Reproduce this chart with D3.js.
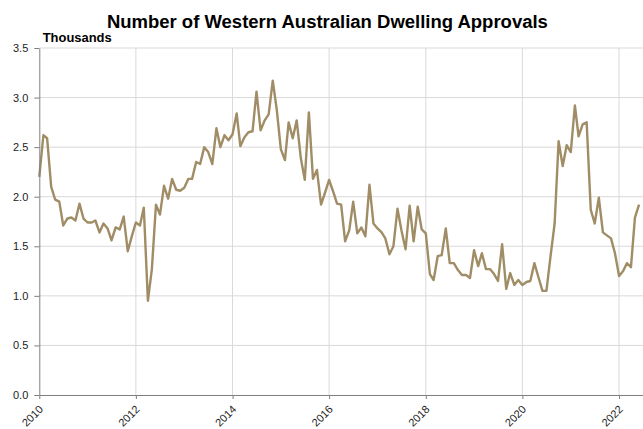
<!DOCTYPE html>
<html>
<head>
<meta charset="utf-8">
<script src="https://cdn.jsdelivr.net/npm/d3@7"></script>
<style>
  body { margin: 0; background: #fff; }
  svg { display: block; font-family: 'Liberation Sans', Arial, sans-serif; }
</style>
</head>
<body>
<div class="line-chart"></div>
<script>
// 每年的月資料 (thousands), 2010-01 開始
const approvals2010 = [2.20, 2.62, 2.59, 2.10, 1.97, 1.95, 1.71, 1.78, 1.79, 1.76, 1.93, 1.78];
const approvals2011 = [1.74, 1.74, 1.76, 1.64, 1.73, 1.68, 1.56, 1.69, 1.67, 1.80, 1.45, 1.60];
const approvals2012 = [1.74, 1.71, 1.89, 0.95, 1.27, 1.92, 1.82, 2.11, 1.98, 2.18, 2.07, 2.06];
const approvals2013 = [2.09, 2.18, 2.18, 2.35, 2.33, 2.50, 2.45, 2.33, 2.69, 2.50, 2.62, 2.57];
const approvals2014 = [2.63, 2.84, 2.51, 2.60, 2.65, 2.66, 3.06, 2.67, 2.77, 2.83, 3.17, 2.88];
const approvals2015 = [2.48, 2.37, 2.75, 2.59, 2.77, 2.39, 2.17, 2.85, 2.18, 2.27, 1.92, 2.04];
const approvals2016 = [2.17, 2.05, 1.93, 1.92, 1.55, 1.66, 1.95, 1.63, 1.69, 1.60, 2.12, 1.73];
const approvals2017 = [1.68, 1.64, 1.58, 1.42, 1.50, 1.88, 1.66, 1.47, 1.91, 1.55, 1.90, 1.67];
const approvals2018 = [1.63, 1.22, 1.16, 1.40, 1.41, 1.68, 1.33, 1.33, 1.26, 1.21, 1.21, 1.18];
const approvals2019 = [1.46, 1.30, 1.43, 1.27, 1.27, 1.22, 1.15, 1.52, 1.07, 1.23, 1.11, 1.16];
const approvals2020 = [1.11, 1.14, 1.15, 1.33, 1.19, 1.05, 1.05, 1.40, 1.73, 2.56, 2.31, 2.52];
const approvals2021 = [2.45, 2.92, 2.61, 2.73, 2.75, 1.87, 1.73, 1.99, 1.64, 1.61, 1.58, 1.43];
const approvals2022 = [1.20, 1.25, 1.33, 1.29, 1.79, 1.92];

const yearTicks = [2010, 2012, 2014, 2016, 2018, 2020, 2022];
const valueTicks = [0, 0.5, 1, 1.5, 2, 2.5, 3, 3.5];

// 串起來變成 {date, value}
const allValues = [].concat(approvals2010, approvals2011, approvals2012, approvals2013,
    approvals2014, approvals2015, approvals2016, approvals2017, approvals2018,
    approvals2019, approvals2020, approvals2021, approvals2022);
const lineData = allValues.map((v, i) => ({date: new Date(2010, i, 1), value: v}));

setupCanvas(lineData);

function setupCanvas(data){
    const svg_width = 643;
    const svg_height = 429;
    const plot = {left: 39.3, right: 643, top: 48, bottom: 395};

    const svg = d3.select('.line-chart').append('svg')
        .attr('width', svg_width).attr('height', svg_height);

    // x: 2010-01 ~ 2022-07
    const xScale = d3.scaleTime()
        .domain([new Date(2010, 0, 1), new Date(2022, 6, 1)])
        .range([plot.left, plot.right]);
    const yScale = d3.scaleLinear().domain([0, 3.5]).range([plot.bottom, plot.top]);

    // 格線
    const grid = svg.append('g').attr('class', 'grid');
    grid.selectAll('.hgrid').data(valueTicks.slice(1)).enter()
        .append('line').attr('class', 'hgrid')
        .attr('x1', plot.left).attr('x2', plot.right)
        .attr('y1', d => yScale(d)).attr('y2', d => yScale(d))
        .style('stroke', '#d9d9d9').style('stroke-width', 1);
    grid.selectAll('.vgrid').data(yearTicks.slice(1)).enter()
        .append('line').attr('class', 'vgrid')
        .attr('x1', d => xScale(new Date(d, 0, 1))).attr('x2', d => xScale(new Date(d, 0, 1)))
        .attr('y1', plot.top).attr('y2', plot.bottom)
        .style('stroke', '#d9d9d9').style('stroke-width', 1);

    // 線
    const lineGen = d3.line()
        .x(d => xScale(d.date))
        .y(d => yScale(d.value));
    svg.append('path').datum(data)
        .attr('d', lineGen)
        .style('fill', 'none')
        .style('stroke', '#a08d66')
        .style('stroke-width', 2.4)
        .style('stroke-linejoin', 'round');

    // y軸
    const yAxis = d3.axisLeft(yScale).tickValues(valueTicks)
        .tickFormat(d3.format('.1f')).tickSizeInner(5).tickSizeOuter(0).tickPadding(6);
    const yG = svg.append('g').attr('class', 'y axis')
        .attr('transform', `translate(${plot.left},0)`)
        .call(yAxis);
    yG.select('.domain').style('stroke', '#7f7f7f');
    yG.selectAll('.tick line').style('stroke', '#7f7f7f');
    yG.selectAll('text').style('font-size', '11px').style('fill', '#222')
        .style('font-family', "'Liberation Sans', Arial, sans-serif");

    // x軸
    const xAxis = d3.axisBottom(xScale)
        .tickValues(yearTicks.map(y => new Date(y, 0, 1)))
        .tickFormat(d3.timeFormat('%Y')).tickSizeInner(4).tickSizeOuter(0);
    const xG = svg.append('g').attr('class', 'x axis')
        .attr('transform', `translate(0,${plot.bottom})`)
        .call(xAxis);
    xG.select('.domain').style('stroke', '#7f7f7f');
    xG.selectAll('.tick line').style('stroke', '#7f7f7f');
    xG.selectAll('text')
        .attr('y', 0).attr('dy', 0)
        .attr('transform', 'translate(4,15) rotate(-45)')
        .style('text-anchor', 'end')
        .style('font-size', '11px').style('fill', '#222')
        .style('font-family', "'Liberation Sans', Arial, sans-serif");

    // 標題
    svg.append('text')
        .attr('x', 327.4).attr('y', 28)
        .attr('text-anchor', 'middle')
        .attr('textLength', 441).attr('lengthAdjust', 'spacingAndGlyphs')
        .style('font-size', '18px').style('font-weight', 'bold').style('fill', '#000')
        .text('Number of Western Australian Dwelling Approvals');

    svg.append('text')
        .attr('x', 42.7).attr('y', 41.5)
        .attr('textLength', 69).attr('lengthAdjust', 'spacingAndGlyphs')
        .style('font-size', '12px').style('font-weight', 'bold').style('fill', '#000')
        .text('Thousands');
}
</script>
</body>
</html>
